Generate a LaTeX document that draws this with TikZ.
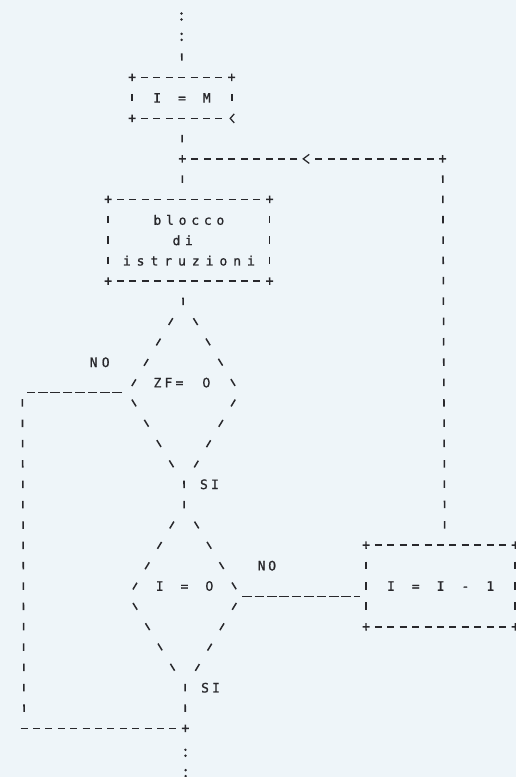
\documentclass[tikz,border=0pt]{standalone}
\usepackage{fontspec}
\setmainfont{DejaVu Sans Mono}[FakeBold=1]
\newfontfamily\zerofont{DejaVu Sans}[FakeBold=1]
\definecolor{bg}{RGB}{238,245,249}
\definecolor{ink}{RGB}{40,40,44}
\newlength\cw
\setlength\cw{12.4pt}
\makeatletter
\def\spc#1{\spc@loop#1\relax}
\def\spc@loop#1{\ifx\relax#1\else\makebox[\cw]{#1}\expandafter\spc@loop\fi}
\makeatother
\newcommand\spcw[2]{{\setlength\cw{#1}\spc{#2}}}
\newcommand\zero{{\zerofont 0}}
\begin{document}
\begin{tikzpicture}[x=12.4pt,y=-20.34pt,
  ln/.style={draw=ink,line width=1.4pt},
  hconn/.style={ln,dash pattern=on 7pt off 5.4pt,shorten <=8.9pt,shorten >=8.9pt},
  vconn/.style={ln,line width=1.55pt,dash pattern=on 7.5pt off 12.84pt,shorten <=16.59pt,shorten >=16.59pt},
  diag/.style={ln,line width=1.5pt,dash pattern=on 8pt off 15.82pt,shorten <=-4pt,shorten >=-4pt},
  uline/.style={ln,line width=1.35pt,dash pattern=on 9.6pt off 2.8pt},
  colon/.style={draw=ink,line width=2.7pt,line cap=round,dash pattern=on 0pt off 6pt on 0pt off 14.34pt,shorten <=-3pt,shorten >=-3pt},
  lbl/.style={text=ink,font=\fontsize{13pt}{20.34pt}\selectfont,inner sep=0pt}]
\path[fill=bg,use as bounding box] (-181.5pt,16.5pt) rectangle (334.5pt,-760.5pt);
\begin{scope}[xslant=-0.0054]
% ---- nodes
\node[lbl,minimum width=99.2pt,minimum height=40.68pt] (im) at (0,4) {\spc{I~=~M}};
\node[lbl,align=center,minimum width=161.2pt,minimum height=81.36pt] (blk) at (0.5,11)
  {\spcw{12.6pt}{blocco}\\\spc{di~}\\\spcw{13.8pt}{istruzioni}\hspace{7.4pt}};
\node[lbl] (d1) at (-0.125,18) {\spcw{11pt}{ZF=}\hspace{15.9pt}\makebox[11pt]{\zero}};
\node[lbl] (d2) at (0,28) {\spc{I~=~\zero}};
\node[lbl,minimum width=148.8pt,minimum height=81.36pt] (dec) at (20.65,28) {\spc{I~=~I~-~1}};
\node[lbl] (no1) at (-6.75,17) {\spcw{12pt}{NO}};
\node[lbl] (no2) at (6.65,27) {\spcw{10.5pt}{NO}};
\node[lbl] (si1) at (2.05,23) {\spcw{11pt}{SI}};
\node[lbl] (si2) at (2.05,33) {\spcw{11pt}{SI}};
% ---- coordinates
\coordinate (c0) at (0,0);
\coordinate (c1) at (0,1);
\coordinate (j7) at (0,7);
\coordinate (lp) at (21,7);
\coordinate (arr) at (10,7);
\coordinate (d1top) at (0,15);
\coordinate (d1bot) at (0,22);
\coordinate (d2top) at (0,25);
\coordinate (d2bot) at (0,32);
\coordinate (d1w) at (-4.96,18.5);
\coordinate (ul) at (-13,18.5);
\coordinate (bl) at (-13,35);
\coordinate (d2e) at (4.65,28.5);
\coordinate (j35) at (0,35);
\coordinate (b0) at (0,36.2);
\coordinate (b1) at (0,37.2);
% ---- box outlines
\foreach \b in {im,blk,dec}{
  \draw[hconn] (\b.north west) -- (\b.north east);
  \draw[hconn] (\b.south west) -- (\b.south east);
  \draw[vconn] (\b.north west) -- (\b.south west);
  \draw[vconn] (\b.north east) -- (\b.south east);
}
% ---- diamonds
\foreach \r/\s in {15/18,25/28}{
  \draw[diag] (-1,\r) -- (-4,\s);
  \draw[diag] (1,\r) -- (4,\s);
}
\foreach \r/\s in {19/22,29/32}{
  \draw[diag] (-4,\r) -- (-1,\s);
  \draw[diag] (4,\r) -- (1,\s);
}
% ---- main flow
\draw[colon] (c0) -- (c1);
\draw[vconn] (c1) -- (im.north);
\draw[vconn] (im.south) -- (j7);
\draw[vconn] (j7) -- (j7 |- blk.north);
\draw[vconn] (j7 |- blk.south) -- (d1top);
\draw[vconn] (d1bot) -- (d2top);
\draw[vconn] (d2bot) -- (j35);
\draw[colon] (b0) -- (b1);
% ---- loop back from I = I - 1
\draw[vconn] (dec.north -| lp) -- (lp);
\draw[hconn] (lp) -- (arr);
\draw[hconn] (arr) -- (j7);
% ---- NO branch of ZF = 0
\draw[uline,shorten >=5pt] (d1w) -- (ul);
\draw[vconn,shorten <=6.42pt] (ul) -- (bl);
\draw[hconn,shorten <=-3.5pt] (bl) -- (j35);
% ---- NO branch of I = 0
\draw[uline,shorten >=6pt] (d2e) -- (d2e -| dec.west);
% ---- corner marks
\foreach \p in {im.north west,im.north east,im.south west,
                blk.north west,blk.north east,blk.south west,blk.south east,
                dec.north west,dec.north east,dec.south west,dec.south east,
                j7,lp,j35}{
  \draw[ln] (\p) ++(-3.5pt,0) -- ++(7pt,0) (\p) ++(0,-3.75pt) -- ++(0,7.5pt);
}
\draw[ln,line width=1.25pt] (arr) ++(3pt,4.5pt) -- ++(-6pt,-4.5pt) -- ++(6pt,-4.5pt);
\draw[ln,line width=1.25pt] (im.south east) ++(2.5pt,4.5pt) -- ++(-4pt,-4.5pt) -- ++(4pt,-4.5pt);
\end{scope}
\end{tikzpicture}
\end{document}
